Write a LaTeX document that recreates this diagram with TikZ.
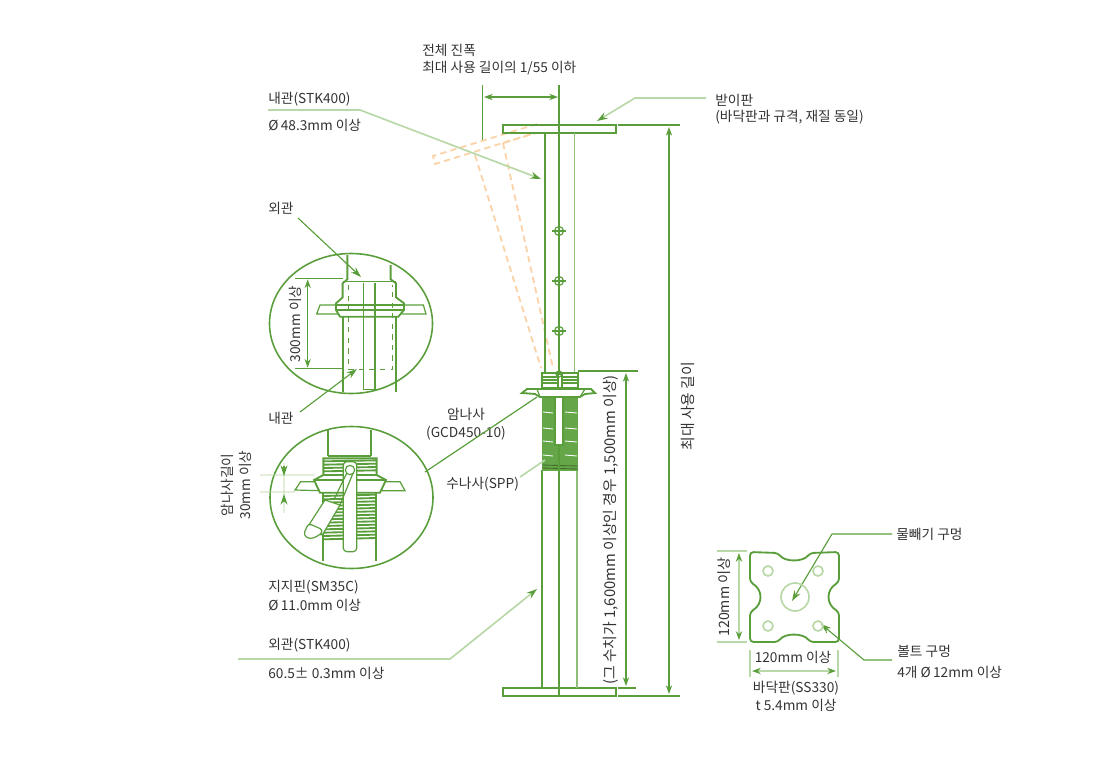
\documentclass[tikz,border=0pt]{standalone}
\usepackage{fontspec}
\setmainfont{Noto Sans CJK KR}
\usetikzlibrary{arrows,arrows.meta}
\definecolor{pipegreen}{HTML}{5A9E3C}
\definecolor{palegreen}{HTML}{B9D8A8}
\definecolor{sidegreen}{HTML}{8DBF78}
\definecolor{midgreen}{HTML}{64A648}
\definecolor{tiltorange}{HTML}{FAD3A8}
\definecolor{labelgray}{HTML}{333333}
\tikzstyle{pipe} = [pipegreen,line width=0.68pt]
\tikzstyle{thickpipe} = [pipegreen,line width=1.05pt]
\tikzstyle{paleline} = [palegreen,line width=0.95pt]
\tikzstyle{dimline} = [pipe,line width=0.65pt,{Stealth[length=5pt,width=3.6pt]}-{Stealth[length=5pt,width=3.6pt]}]
\tikzstyle{leader} = [pipe,line width=0.65pt,-{Stealth[length=6pt,width=4pt]}]
\tikzstyle{paleleader} = [paleline,-{Stealth[length=6pt,width=4pt,color=pipegreen]}]
\tikzstyle{tilted} = [tiltorange,line width=1.05pt,dash pattern=on 3.6pt off 2.4pt]
\tikzstyle{bigtext} = [font=\fontsize{8.45pt}{10pt}\selectfont]
\begin{document}
\begin{tikzpicture}[x=0.02cm,y=-0.02cm,every node/.style={font=\fontsize{7.8pt}{9pt}\selectfont,text=labelgray,inner sep=0pt}]
        \useasboundingbox (0,0) rectangle (1119,758);
        % Labels
        \node[anchor=west] (span1) at (422,50) {전체 진폭};
        \node[anchor=west] (span2) at (422,68) {최대 사용 길이의 1/55 이하};
        \node[anchor=west] (inner1) at (268,99) {내관(STK400)};
        \node[anchor=west] (inner2) at (268,125) {Ø\,48.3mm 이상};
        \node[anchor=west] (head1) at (715,100) {받이판};
        \node[anchor=west] (head2) at (715,117) {(바닥판과 규격, 재질 동일)};
        \node[anchor=west] (outlabel) at (268,208) {외관};
        \node[anchor=west] (inlabel) at (268,418) {내관};
        \node (nut1) at (466,414) {암나사};
        \node (nut2) at (466,433) {(GCD450-10)};
        \node[anchor=west] (male) at (446,484) {수나사(SPP)};
        \node[anchor=west] (pin1) at (268,587) {지지핀(SM35C)};
        \node[anchor=west] (pin2) at (268,605) {Ø\,11.0mm 이상};
        \node[anchor=west] (outer1) at (268,645) {외관(STK400)};
        \node[anchor=west] (outer2) at (268,673) {60.5± 0.3mm 이상};
        \node[rotate=90] (nutlen1) at (227,485) {암나사길이};
        \node[rotate=90] (nutlen2) at (245,485) {30mm 이상};
        \node[rotate=90] (len300) at (295,324) {300mm 이상};
        \node[rotate=90,bigtext] (screw) at (611,530) {(그 수치가 1,600mm 이상인 경우 1,500mm 이상)};
        \node[rotate=90,bigtext] (maxlen) at (688,406) {최대 사용 길이};
        \node[anchor=west] (drain) at (896,534) {물빼기 구멍};
        \node[anchor=west] (bolt1) at (897,651) {볼트 구멍};
        \node[anchor=west] (bolt2) at (897,672) {4개 Ø\,12mm 이상};
        \node[rotate=90,font=\fontsize{8.1pt}{10pt}\selectfont] (plateh) at (724,597) {120mm 이상};
        \node (platew) at (793,657) {120mm 이상};
        \node (base1) at (796,688) {바닥판(SS330)};
        \node (base2) at (796,705) {t 5.4mm 이상};

        % Connector ends
        \coordinate (spanA) at (484,97);
        \coordinate (spanB) at (558,97);
        \coordinate (topA) at (669,127);
        \coordinate (topB) at (669,694);
        \coordinate (midA) at (626,373);
        \coordinate (midB) at (626,686);
        \coordinate (inA) at (268,110);
        \coordinate (inB) at (360,110);
        \coordinate (inC) at (541,179);
        \coordinate (headA) at (706,98);
        \coordinate (headB) at (635,98);
        \coordinate (headC) at (597,121);
        \coordinate (outA) at (298,218);
        \coordinate (outB) at (361,277);
        \coordinate (inD) at (300,412);
        \coordinate (inE) at (357,369);
        \coordinate (nutA) at (425,472);
        \coordinate (nutB) at (537,397);
        \coordinate (maleA) at (520,477);
        \coordinate (maleB) at (545,460);
        \coordinate (pipeA) at (238,659);
        \coordinate (pipeB) at (450,659);
        \coordinate (pipeC) at (537,589);
        \coordinate (drainA) at (892,534);
        \coordinate (drainB) at (832,534);
        \coordinate (drainC) at (792,601);
        \coordinate (boltA) at (892,660);
        \coordinate (boltB) at (864,660);
        \coordinate (boltC) at (821,624);

        % Tilted pipe
        \draw[tilted] (537,124) -- (433,156) -- (435,164) -- (535,133);
        \draw[tilted] (475,155) -- (541,368);
        \draw[tilted] (503,143) -- (553,368);
        \draw[tilted] (503,143) -- (536,133);

        % Main pipe
        \draw[pipe] (482.5,85) -- (482.5,140);
        \draw[pipe] (559,85) -- (559,696);
        \draw[pipe] (503,125) rectangle (616,133);
        \draw[pipe] (503,688) rectangle (616,696);
        \draw[pipe] (545,133) -- (545,374);
        \draw[sidegreen,line width=0.95pt] (574.5,133) -- (574.5,374);
        \draw[pipe] (542,470) -- (542,688);
        \draw[sidegreen,line width=1.2pt] (577,470) -- (577,688);
        \foreach \y in {231,281,331} {
          \draw[pipe] (559,\y) circle (4.5);
          \draw[pipe] (552,\y) -- (566,\y);
        }
        % Screw part
        \fill[midgreen] (542,397) rectangle (578,471);
        \foreach \y in {412,428,441,455} {
          \draw[white,line width=0.5pt] (543,\y) -- (553,\y+1);
          \draw[white,line width=0.5pt] (565,\y) -- (577,\y+1);
        }
        \foreach \y in {465,468} \draw[pipegreen!70!black,line width=0.5pt] (542,\y) -- (578,\y+1);
        \draw[white,fill=white] (555,397) rectangle (563,445);
        \draw[pipe] (555,397) -- (555,445) -- (563,445) -- (563,397);
        \draw[pipe] (559,445) -- (559,470);
        \draw[thickpipe,fill=white] (542,373) rectangle (578,388);
        \foreach \y in {377,380,383} \draw[pipe] (543,\y) -- (577,\y);
        \draw[pipe,fill=white] (558,374) rectangle (562,388);
        \draw[pipe] (559,374) circle (3);
        \draw[thickpipe,fill=white] (522,393) -- (527,389) -- (537,389) -- (585,389) -- (591,389) -- (595,393) -- (585,394) -- (580,397) -- (540,397) -- (535,394) -- cycle;
        \draw[pipe] (537,389) -- (540,397);
        \draw[pipe] (585,389) -- (580,397);

        % Extension lines
        \draw[pipe] (618,125) -- (680,125);
        \draw[pipe] (618,696) -- (680,696);
        \draw[pipe] (578,371) -- (638,371);
        \draw[pipe] (618,688) -- (636,688);

        % Dimensions and leaders
        \draw[dimline] (spanA) -- (spanB);
        \draw[dimline] (topA) -- (topB);
        \draw[dimline] (midA) -- (midB);
        \draw[paleleader] (inA) -- (inB) -- (inC);
        \draw[paleleader] (headA) -- (headB) -- (headC);
        \draw[paleline] (maleA) -- (maleB);
        \draw[paleleader] (pipeA) -- (pipeB) -- (pipeC);
        \draw[leader] (drainA) -- (drainB) -- (drainC);
        \draw[leader] (boltA) -- (boltB) -- (boltC);

        % Detail of the pin joint
        \draw[pipe,line width=0.9pt] (351,323.5) ellipse [x radius=81.5,y radius=70];
        \begin{scope}[shift={(260,240)},scale=0.33333]
          \draw[thickpipe] (262,45) -- (262,118) -- (248,130) -- (248,172) -- (228,190) -- (228,210) -- (240,230) -- (415,230) -- (432,210) -- (432,190) -- (408,172) -- (408,130) -- (392,118) -- (392,75);
          \draw[pipe] (248,125) -- (408,125);
          \draw[pipe] (228,195) -- (432,195);
          \draw[pipe] (228,210) -- (432,210);
          \draw[pipe] (228,195) -- (180,195) -- (170,222) -- (235,222);
          \draw[pipe] (432,195) -- (490,195) -- (498,222) -- (425,222);
          \draw[thickpipe] (250,230) -- (250,455);
          \draw[thickpipe] (408,230) -- (408,455);
          \draw[pipe,dashed] (265,135) -- (265,388) -- (397,388) -- (397,135);
          \draw[pipe] (310,128) -- (310,448) -- (345,448) -- (345,128);
          \draw[pipe] (105,115) -- (248,115);
          \draw[pipe] (105,386) -- (250,386);
          \coordinate (lenA) at (143,118);
          \coordinate (lenB) at (143,383);
          \draw[dimline] (lenA) -- (lenB);
        \end{scope}
        \draw[leader] (outA) -- (outB);
        \draw[leader] (inD) -- (inE);

        % Detail of the screw
        \draw[pipe,line width=0.9pt] (351.5,497.5) ellipse [x radius=81.5,y radius=71];
        \draw[pipe] (nutA) -- (nutB);
        \begin{scope}[shift={(260,420)},scale=0.33333]
          \draw[paleline,opacity=.4] (0,165) -- (165,165);
          \draw[paleline,opacity=.4] (0,215) -- (105,215);
          \draw[paleline,opacity=.4] (72,130) -- (72,280);
          \coordinate (gapA) at (72,138);
          \coordinate (gapB) at (72,168);
          \coordinate (gapC) at (72,245);
          \coordinate (gapD) at (72,222);
          \draw[leader] (gapA) -- (gapB);
          \draw[leader] (gapC) -- (gapD);
          \draw[thickpipe] (203,30) -- (203,108);
          \draw[thickpipe] (333,30) -- (333,108);
          \draw[pipe] (203,108) -- (333,108);
          \foreach \y in {228,238,...,358} \draw[thickpipe] (190,\y) -- (347,\y-4);
          \draw[thickpipe,fill=white] (190,115) -- (350,115) -- (350,165) -- (378,180) -- (360,218) -- (180,218) -- (162,180) -- (190,165) -- cycle;
          \foreach \y in {124,134,...,154} \draw[thickpipe] (190,\y) -- (350,\y-3);
          \draw[pipe] (190,165) -- (350,165);
          \draw[pipe] (162,180) -- (378,180);
          \draw[pipe] (162,185) -- (122,185) -- (105,210) -- (175,212);
          \draw[pipe] (378,185) -- (420,185) -- (435,212) -- (365,212);
          \draw[thickpipe] (190,218) -- (190,422);
          \draw[thickpipe] (347,218) -- (347,422);
          % Pin
          \draw[pipe,fill=white,rounded corners=2pt] (250,125) -- (290,125) -- (290,395) -- (250,395) -- cycle;
          \draw[pipe] (270,150) circle (14);
          \draw[pipe,fill=white] (195,240) -- (240,255) -- (187,345) -- (140,325) -- cycle;
          \draw[pipe,fill=white,rounded corners=2pt] (145,310) -- (190,330) -- (180,345) -- (150,358) -- (130,345) -- cycle;
          \draw[pipe] (260,160) -- (222,238);
          \draw[pipe] (278,162) -- (240,255);
        \end{scope}

        % Base plate
        \draw[thickpipe,rounded corners=2pt] (750,552) -- (778,553) .. controls (785,562) and (803,562) .. (810,553) -- (839,552) -- (839,582) .. controls (826,590) and (826,604) .. (839,612) -- (839,642) -- (810,642) .. controls (803,633) and (785,633) .. (778,642) -- (750,642) -- (750,612) .. controls (763,604) and (763,590) .. (750,582) -- cycle;
        \draw[paleline] (795,597) circle (14);
        \foreach \x in {768,818} \foreach \y in {571,626} \draw[paleline] (\x,\y) circle (5);
        \draw[paleline] (717,551) -- (747,551);
        \draw[paleline] (717,642) -- (747,642);
        \draw[paleline] (750,650) -- (750,677);
        \draw[paleline] (838,650) -- (838,677);
        \coordinate (plateA) at (739,553);
        \coordinate (plateB) at (739,640);
        \coordinate (plateC) at (752,671);
        \coordinate (plateD) at (836,671);
        \draw[dimline,paleline,{Stealth[length=5pt,width=3.6pt,color=pipegreen]}-{Stealth[length=5pt,width=3.6pt,color=pipegreen]}] (plateA) -- (plateB);
        \draw[dimline,paleline,{Stealth[length=5pt,width=3.6pt,color=pipegreen]}-{Stealth[length=5pt,width=3.6pt,color=pipegreen]}] (plateC) -- (plateD);

      \end{tikzpicture}
\end{document}
